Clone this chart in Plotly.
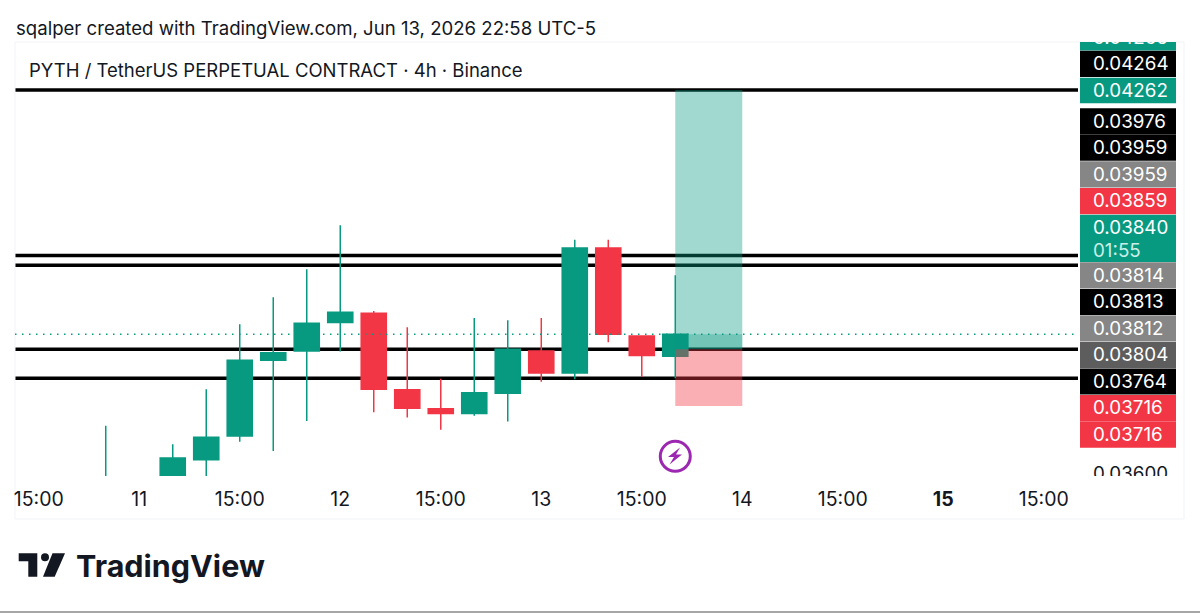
import plotly.graph_objects as go

# ---- data ----
times = ["2026-06-10 23:00", "2026-06-11 03:00", "2026-06-11 07:00", "2026-06-11 11:00",
         "2026-06-11 15:00", "2026-06-11 19:00", "2026-06-11 23:00", "2026-06-12 03:00",
         "2026-06-12 07:00", "2026-06-12 11:00", "2026-06-12 15:00", "2026-06-12 19:00",
         "2026-06-12 23:00", "2026-06-13 03:00", "2026-06-13 07:00", "2026-06-13 11:00",
         "2026-06-13 15:00", "2026-06-13 19:00"]
opens = [0.03575, 0.03570, 0.03590, 0.03623, 0.03664, 0.03795, 0.03811, 0.03860, 0.03876,
         0.03744, 0.03711, 0.03703, 0.03738, 0.03811, 0.03773, 0.03989, 0.03837, 0.03802]
highs = [0.03682, 0.03592, 0.03650, 0.03745, 0.03857, 0.03904, 0.03952, 0.04028, 0.03880,
         0.03852, 0.03763, 0.03868, 0.03864, 0.03868, 0.04003, 0.04003, 0.03837, 0.03942]
lows = [0.03560, 0.03550, 0.03570, 0.03590, 0.03654, 0.03638, 0.03690, 0.03810, 0.03705,
        0.03696, 0.03675, 0.03699, 0.03689, 0.03758, 0.03762, 0.03826, 0.03766, 0.03764]
closes = [0.03590, 0.03580, 0.03626, 0.03662, 0.03795, 0.03808, 0.03859, 0.03878, 0.03745,
          0.03712, 0.03703, 0.03739, 0.03814, 0.03773, 0.03989, 0.03840, 0.03803, 0.03840]

level_prices = [0.04262, 0.03976, 0.03959, 0.03814, 0.03764]
last_price = 0.03840
target_price = 0.04262
entry_price = 0.03814
stop_price = 0.03716
position_start = "2026-06-13 19:00"
position_end = "2026-06-14 03:00"
alert_time = "2026-06-13 19:00"
alert_price = 0.03629

tick_times = ["2026-06-10 15:00", "2026-06-11 03:00", "2026-06-11 15:00", "2026-06-12 03:00",
              "2026-06-12 15:00", "2026-06-13 03:00", "2026-06-13 15:00", "2026-06-14 03:00",
              "2026-06-14 15:00", "2026-06-15 03:00", "2026-06-15 15:00"]
tick_labels = ["15:00", "11", "15:00", "12", "15:00", "13", "15:00", "14", "15:00", "<b>15</b>", "15:00"]

scale_labels = ["0.04265", "0.04264", "0.04262", "0.03976", "0.03959", "0.03959", "0.03859",
                "0.03840", "01:55", "0.03814", "0.03813", "0.03812", "0.03804", "0.03764",
                "0.03716", "0.03716", "0.03600"]

header = "sqalper created with TradingView.com, Jun 13, 2026 22:58 UTC-5"
symbol = "PYTH / TetherUS PERPETUAL CONTRACT · 4h · Binance"
brand = "TradingView"

# ---- layout and styles ----
W, H = 1200, 613
GREEN, RED, INK = "#089981", "#F23645", "#131722"
FONT = "Inter, Roboto, sans-serif"
PANE_L, PANE_R, PANE_T, PANE_B = 15, 1078, 43, 476
SCALE_R = 1184


def px(x):
    return x / W


def py(y):
    return 1 - y / H


def path(points):
    return "M" + " L".join(f"{px(x):.5f},{py(y):.5f}" for x, y in points) + " Z"


# label rows on the price scale: top edge, bottom edge, fill colour, text colour
scale_rows = [
    (25, 50.5, GREEN, "#ffffff"), (50.7, 77, "#000000", "#ffffff"), (77.7, 103.3, GREEN, "#ffffff"),
    (108.3, 134.5, "#000000", "#ffffff"), (134.5, 160.8, "#000000", "#ffffff"),
    (161.3, 187.6, "#868686", "#ffffff"), (188, 214.2, RED, "#ffffff"),
    (214.7, 241.3, GREEN, "#ffffff"), (239, 262, GREEN, "#c9efe7"), (262.3, 288.6, "#868686", "#ffffff"),
    (289, 315.2, "#000000", "#ffffff"), (315.8, 341.6, "#868686", "#ffffff"),
    (342, 368, "#5d5d5d", "#ffffff"), (368.4, 394.6, "#000000", "#ffffff"),
    (395, 421, RED, "#ffffff"), (421.2, 447.7, RED, "#ffffff"),
    (460, 487, "rgba(0,0,0,0)", INK),
]

fig = go.Figure()
fig.add_trace(go.Candlestick(
    x=times, open=opens, high=highs, low=lows, close=closes, whiskerwidth=0,
    increasing=dict(line=dict(color=GREEN, width=1.5), fillcolor=GREEN),
    decreasing=dict(line=dict(color=RED, width=1.5), fillcolor=RED),
    showlegend=False, hoverinfo="skip",
))
fig.add_trace(go.Scatter(
    x=[alert_time], y=[alert_price], mode="markers", showlegend=False, hoverinfo="skip",
    marker=dict(symbol="circle-open", size=30, color="#9C27B0", line=dict(width=3, color="#9C27B0")),
))
fig.add_trace(go.Scatter(
    x=[1093] * len(scale_labels),
    y=[(t + b) / 2 + 1.5 for t, b, _, _ in scale_rows],
    text=scale_labels, mode="text", xaxis="x2", yaxis="y2", cliponaxis=True,
    textposition="middle right", hoverinfo="skip", showlegend=False,
    textfont=dict(family=FONT, size=18.8, color=[r[3] for r in scale_rows]),
))

shapes = []
for price in level_prices:
    shapes.append(dict(type="line", xref="x domain", yref="y", x0=0, x1=1, y0=price, y1=price,
                       line=dict(color="#000000", width=3.5), layer="below"))
shapes.append(dict(type="line", xref="x domain", yref="y", x0=0, x1=1, y0=last_price, y1=last_price,
                   line=dict(color=GREEN, width=1.5, dash="1.5px,5.5px"), layer="above"))
shapes.append(dict(type="rect", xref="x", yref="y", x0=position_start, x1=position_end,
                   y0=entry_price, y1=target_price, fillcolor="rgba(8,153,129,0.38)",
                   line=dict(width=0), layer="above"))
shapes.append(dict(type="rect", xref="x", yref="y", x0=position_start, x1=position_end,
                   y0=entry_price, y1=last_price, fillcolor="rgba(8,153,129,0.30)",
                   line=dict(width=0), layer="above"))
shapes.append(dict(type="rect", xref="x", yref="y", x0=position_start, x1=position_end,
                   y0=stop_price, y1=entry_price, fillcolor="rgba(242,54,69,0.40)",
                   line=dict(width=0), layer="above"))
for t, b, fill, _ in scale_rows:
    shapes.append(dict(type="rect", xref="x2", yref="y2", x0=1080, x1=1176, y0=t, y1=b,
                       fillcolor=fill, line=dict(width=0), layer="below"))
# panel outline and bottom rule
shapes.append(dict(type="rect", xref="paper", yref="paper", x0=px(15), x1=px(SCALE_R),
                   y0=py(519), y1=py(42), line=dict(color="#F2F3F6", width=1), layer="below"))
shapes.append(dict(type="line", xref="paper", yref="paper", x0=0, x1=1, y0=py(612), y1=py(612),
                   line=dict(color="#8a8a8a", width=1.5), layer="above"))
# logo mark
shapes.append(dict(type="path", xref="paper", yref="paper", line=dict(width=0), fillcolor=INK,
                   path=path([(18.7, 553.3), (37.3, 553.3), (37.3, 576.7), (28.3, 576.7),
                              (28.3, 561.2), (18.7, 561.2)])))
shapes.append(dict(type="path", xref="paper", yref="paper", line=dict(width=0), fillcolor=INK,
                   path=path([(52.5, 553.3), (65, 553.3), (54.7, 576.7), (43, 576.7)])))
shapes.append(dict(type="circle", xref="paper", yref="paper", line=dict(width=0), fillcolor=INK,
                   x0=px(41), x1=px(49), y0=py(561.3), y1=py(553.3)))
# bolt inside the alert marker
shapes.append(dict(type="path", xref="paper", yref="paper", line=dict(width=0), fillcolor="#9C27B0",
                   path=path([(680, 447.5), (668, 457), (674, 457), (669.5, 464.5),
                              (682, 454.5), (676, 454.5)])))

fig.update_layout(
    width=W, height=H, margin=dict(l=0, r=0, t=0, b=0, autoexpand=False), autosize=False,
    paper_bgcolor="#ffffff", plot_bgcolor="#ffffff", boxgap=0.25, boxgroupgap=0, showlegend=False,
    font=dict(family=FONT, color=INK),
    title=dict(text=header, x=px(16), xanchor="left", y=py(28), yanchor="middle",
               font=dict(family=FONT, size=18.6, color=INK)),
    xaxis=dict(domain=[px(PANE_L), px(PANE_R)], type="date", range=["2026-06-10 12:10", "2026-06-15 19:05"],
               tickmode="array", tickvals=tick_times, ticktext=tick_labels, ticks="", showgrid=False,
               zeroline=False, showline=False, rangeslider=dict(visible=False), ticklabelstandoff=9,
               tickfont=dict(family=FONT, size=19.5, color=INK), anchor="y"),
    yaxis=dict(domain=[py(PANE_B), py(PANE_T)], range=[0.03595, 0.04343], showgrid=False, zeroline=False,
               showticklabels=False, ticks="", showline=False, anchor="x"),
    xaxis2=dict(domain=[px(PANE_R), px(SCALE_R)], range=[PANE_R, SCALE_R], visible=False, anchor="y2"),
    yaxis2=dict(domain=[py(PANE_B), py(42)], range=[PANE_B, 42], visible=False, anchor="x2"),
    shapes=shapes,
    annotations=[
        dict(text=symbol, xref="paper", yref="paper", x=px(27), y=py(70), xanchor="left", yanchor="middle",
             showarrow=False, font=dict(family=FONT, size=18.5, color=INK)),
        dict(text=f"<b>{brand}</b>", xref="paper", yref="paper", x=px(74), y=py(565.5), xanchor="left",
             yanchor="middle", showarrow=False, font=dict(family=FONT, size=30.5, color=INK)),
    ],
)
fig.write_html("out.html", config=dict(displayModeBar=False),
               post_script="document.body.style.margin='0';document.documentElement.style.overflow='hidden';")
